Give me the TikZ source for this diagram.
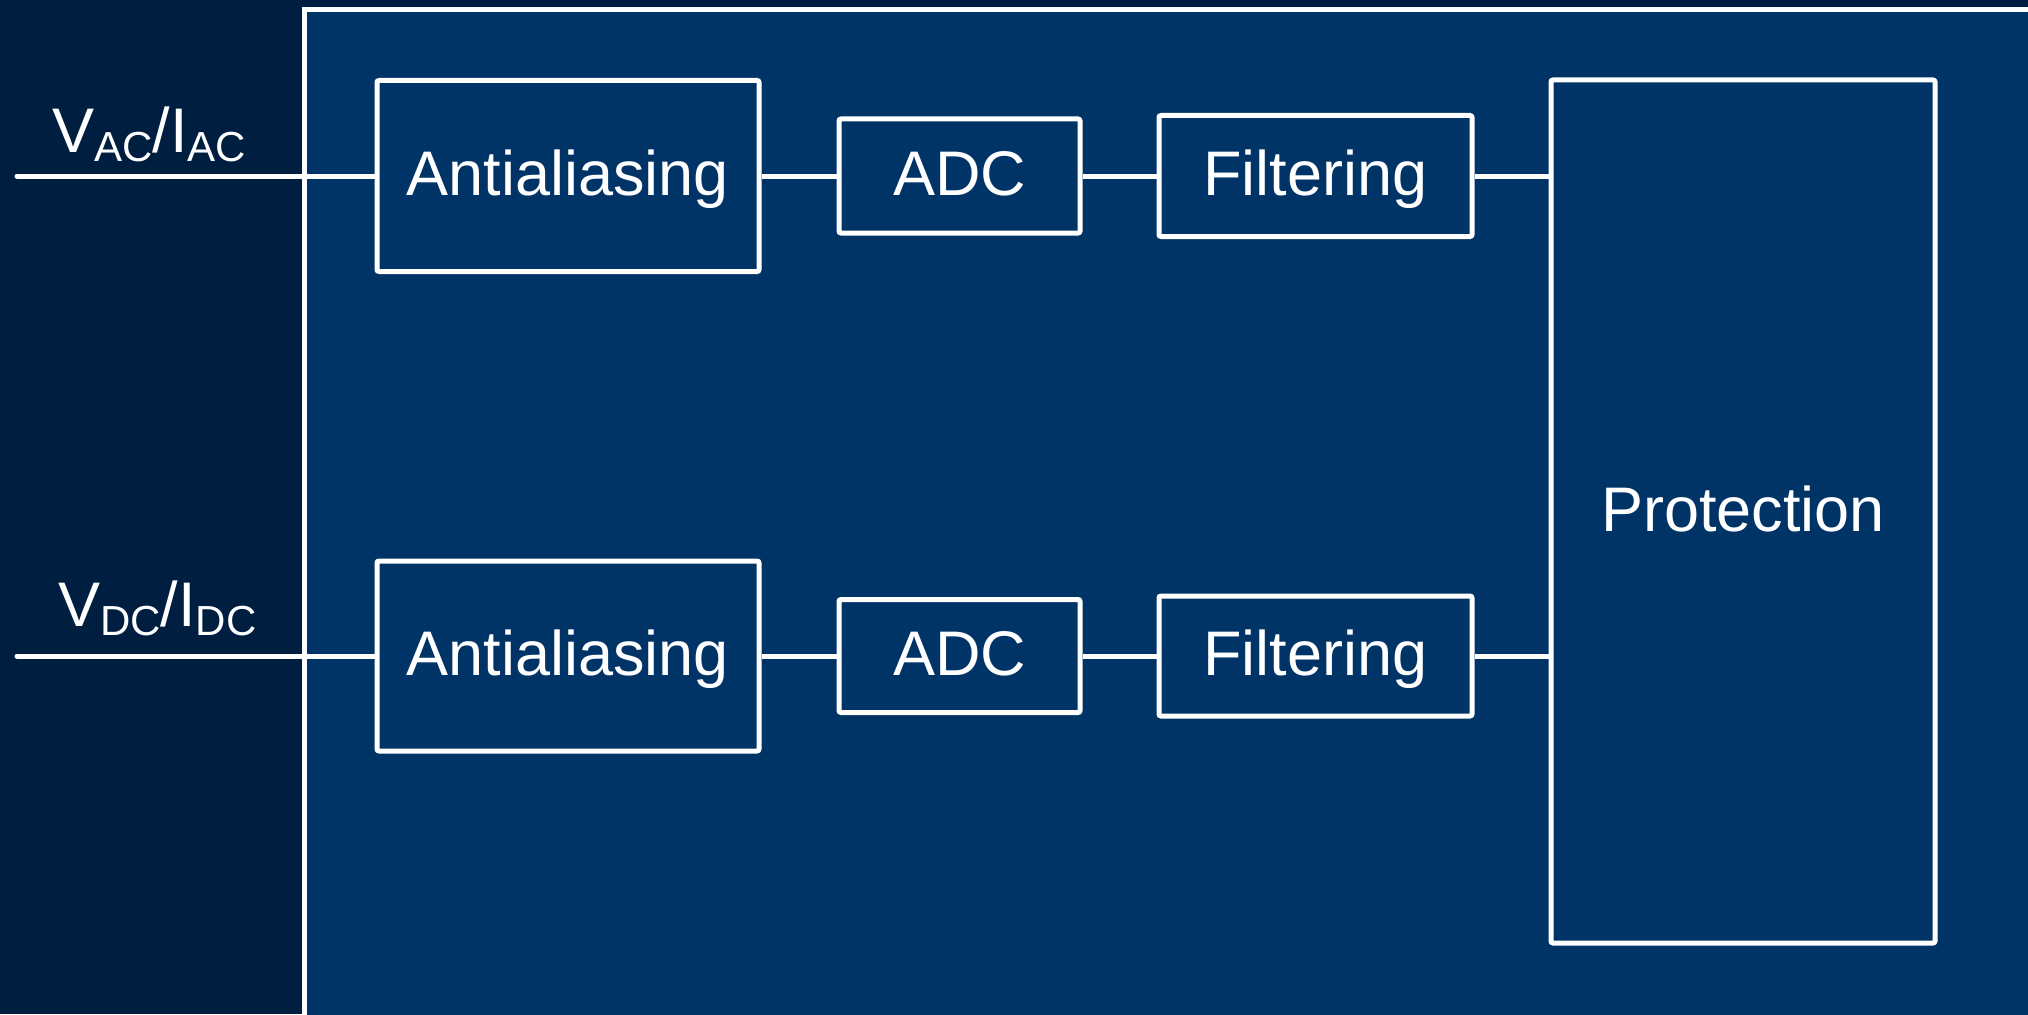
\documentclass[tikz,border=0pt]{standalone}
\usepackage{fontspec}
\setmainfont{Liberation Sans}
\usepackage{xcolor}
\usepackage{tikz}
\usetikzlibrary{
    positioning,
    calc
}
\definecolor{navydark}{HTML}{001F40}
\definecolor{navymid}{HTML}{003366}
\newcommand{\lowtxt}[1]{\raisebox{-9pt}{\fontsize{42}{42}\selectfont #1}}
\tikzset{
  block/.style = {
      draw=white,
      line width=5pt,
      rectangle,
      rounded corners=2pt,
      fill=navymid,
      text=white,
      font=\fontsize{63}{75}\selectfont,
      text height=45pt,
      text depth=6pt,
      align=center,
      inner sep=0pt
  },
  frame/.style = {
      draw=white,
      line width=5pt,
      fill=navymid
  },
  wire/.style = {
      draw=white,
      line width=5pt
  },
  label/.style = {
      text=white,
      font=\fontsize{63}{75}\selectfont,
      inner sep=0pt
  }
}

\begin{document}
\begin{tikzpicture}[x=1pt, y=-1pt]
        \useasboundingbox (0,0) rectangle (2028,1014);
        \clip (0,0) rectangle (2028,1014);
        \fill[navydark] (0,0) rectangle (2028,1014);
        \draw[frame] (304,9.5) rectangle (2100,1100);
        % AC path
        \node[block, minimum width=382pt, minimum height=191pt] (aa1) at (568,176) {Antialiasing};
        \node[block, minimum width=241pt, minimum height=114pt] (adc1) at (959.5,176) {ADC};
        \node[block, minimum width=313pt, minimum height=121pt] (filt1) at (1315.5,176) {Filtering};
        % DC path
        \node[block, minimum width=382pt, minimum height=190pt] (aa2) at (568,656) {Antialiasing};
        \node[block, minimum width=241pt, minimum height=113pt] (adc2) at (959.5,656) {ADC};
        \node[block, minimum width=313pt, minimum height=120pt] (filt2) at (1315.5,656) {Filtering};
        % Protection
        \node[block, minimum width=384pt, minimum height=863pt] (prot) at (1743,511.5) {Protection};
        % Inputs
        \coordinate (inAC) at (17,176);
        \coordinate (inDC) at (17,656);
        \node[label, anchor=base west] (labAC) at (52,153) {V\lowtxt{AC}/I\lowtxt{AC}};
        \node[label, anchor=base west] (labDC) at (58,626) {V\lowtxt{DC}/I\lowtxt{DC}};
        % Edges
        \draw[wire, line cap=round] (inAC) -- (aa1.west);
        \draw[wire, line cap=round] (inDC) -- (aa2.west);
        \draw[wire] (aa1.east) -- (adc1.west);
        \draw[wire] (adc1.east) -- (filt1.west);
        \draw[wire] (filt1.east) -- (filt1.east -| prot.west);
        \draw[wire] (aa2.east) -- (adc2.west);
        \draw[wire] (adc2.east) -- (filt2.west);
        \draw[wire] (filt2.east) -- (filt2.east -| prot.west);
\end{tikzpicture}
\end{document}
